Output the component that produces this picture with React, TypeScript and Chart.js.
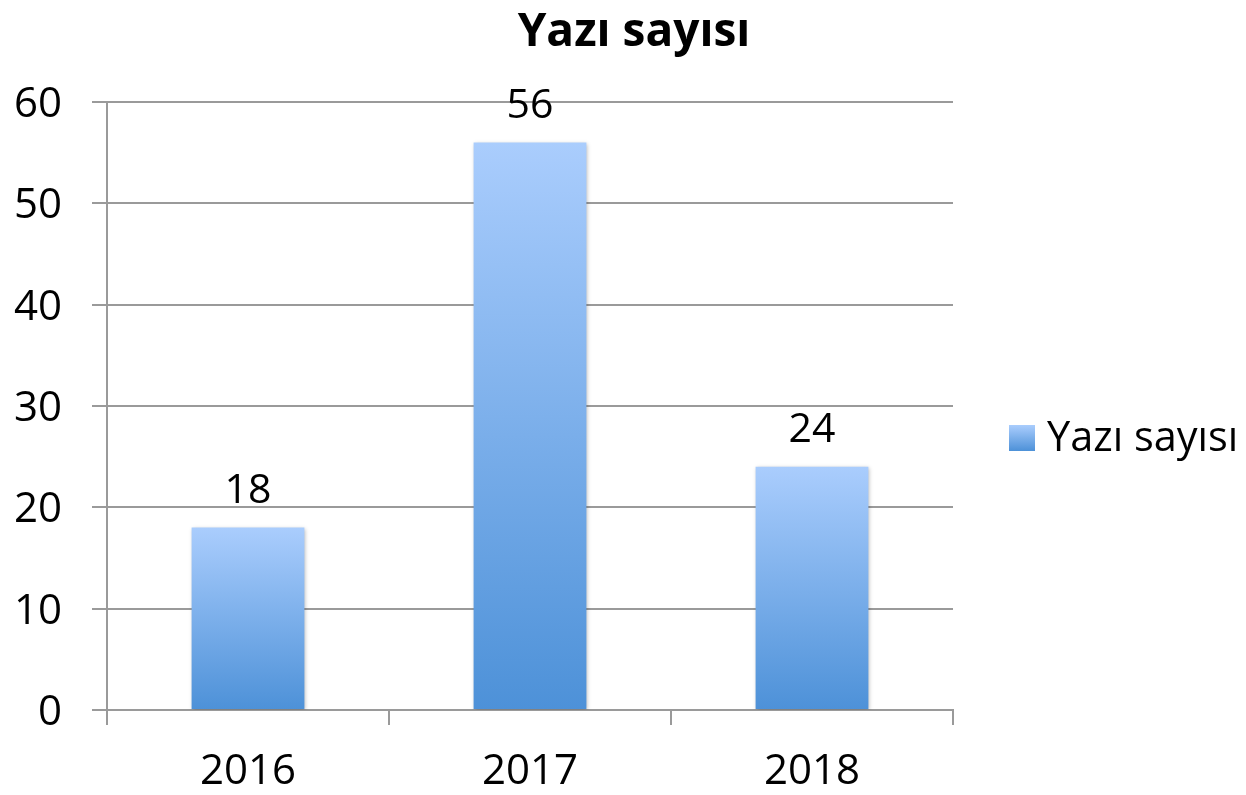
import React, { useEffect, useRef } from "react";
import { Chart, registerables } from "chart.js";

Chart.register(...registerables);

const titleText = "Yazı sayısı";
const seriesLabel = "Yazı sayısı";
const categories = ["2016", "2017", "2018"];
const values = [18, 56, 24];
const yMin = 0;
const yMax = 60;
const yStep = 10;

const FONT = "'Open Sans', 'DejaVu Sans', sans-serif";
const GRID = "#9a9a9a";
const TOP_COLOR = "#aacdfd";
const BOTTOM_COLOR = "#4d91d8";

function barGradient(ctx: CanvasRenderingContext2D, top: number, bottom: number) {
  const g = ctx.createLinearGradient(0, top, 0, bottom);
  g.addColorStop(0, TOP_COLOR);
  g.addColorStop(1, BOTTOM_COLOR);
  return g;
}

const extrasPlugin = {
  id: "extras",
  beforeDatasetsDraw(chart: any) {
    const ctx = chart.ctx;
    ctx.save();
    ctx.shadowColor = "rgba(0,0,0,0.28)";
    ctx.shadowBlur = 4;
    ctx.shadowOffsetX = 1;
    ctx.shadowOffsetY = 1;
  },
  afterDatasetsDraw(chart: any) {
    const ctx = chart.ctx;
    ctx.restore();
    ctx.save();
    const meta = chart.getDatasetMeta(0);
    ctx.fillStyle = "#000";
    ctx.font = `41px ${FONT}`;
    ctx.textAlign = "center";
    ctx.textBaseline = "alphabetic";
    meta.data.forEach((bar: any, i: number) => {
      ctx.fillText(String(values[i]), bar.x, bar.y - 25);
    });
    ctx.restore();
  },
  afterDraw(chart: any) {
    const ctx = chart.ctx;
    ctx.save();
    // title
    ctx.fillStyle = "#000";
    ctx.font = `bold 46px ${FONT}`;
    ctx.textAlign = "center";
    ctx.textBaseline = "alphabetic";
    ctx.fillText(titleText, 634, 46);
    // legend
    const sx = 1009, sy = 425, ss = 26;
    ctx.fillStyle = barGradient(ctx, sy, sy + ss);
    ctx.fillRect(sx, sy, ss, ss);
    ctx.fillStyle = "#000";
    ctx.font = `41.5px ${FONT}`;
    ctx.textAlign = "left";
    ctx.fillText(seriesLabel, 1047, 451);
    ctx.restore();
  },
};

export default function App() {
  const canvasRef = useRef<HTMLCanvasElement | null>(null);

  useEffect(() => {
    const canvas = canvasRef.current;
    if (!canvas) return;
    const chart = new Chart(canvas, {
      type: "bar",
      data: {
        labels: categories,
        datasets: [
          {
            label: seriesLabel,
            data: values,
            backgroundColor: (c: any) => {
              const ch = c.chart;
              const ys = ch.scales && ch.scales.y;
              if (!ch.chartArea || !ys || c.raw === undefined) return TOP_COLOR;
              const top = ys.getPixelForValue(c.raw);
              const bottom = ys.getPixelForValue(0);
              return barGradient(ch.ctx, top, bottom);
            },
            borderWidth: 0,
            barPercentage: 0.4,
            categoryPercentage: 1,
          },
        ],
      },
      options: {
        animation: false,
        responsive: true,
        maintainAspectRatio: false,
        layout: { padding: { top: 102, right: 293, left: 0, bottom: 0 } },
        plugins: {
          legend: { display: false },
          title: { display: false },
          tooltip: { enabled: false },
        },
        scales: {
          x: {
            afterFit: (s: any) => {
              s.height = 85;
            },
            grid: {
              display: true,
              offset: true,
              drawOnChartArea: false,
              drawTicks: true,
              tickLength: 15,
              color: GRID,
              lineWidth: 2,
            },
            border: { display: true, color: GRID, width: 2 },
            ticks: {
              color: "#000",
              font: { family: FONT, size: 42 },
              padding: 22,
              maxRotation: 0,
            },
          },
          y: {
            min: yMin,
            max: yMax,
            afterFit: (s: any) => {
              s.width = 107;
            },
            grid: {
              color: GRID,
              lineWidth: 2,
              tickLength: 15,
              drawTicks: true,
            },
            border: { display: true, color: GRID, width: 2 },
            ticks: {
              stepSize: yStep,
              color: "#000",
              font: { family: FONT, size: 42 },
              padding: 30,
              labelOffset: 3,
            },
          },
        },
      },
      plugins: [extrasPlugin],
    });
    return () => chart.destroy();
  }, []);

  return (
    <div
      style={{
        position: "fixed",
        left: 0,
        top: 0,
        width: "1246px",
        height: "795px",
        background: "#fff",
      }}
    >
      <canvas ref={canvasRef} />
    </div>
  );
}
